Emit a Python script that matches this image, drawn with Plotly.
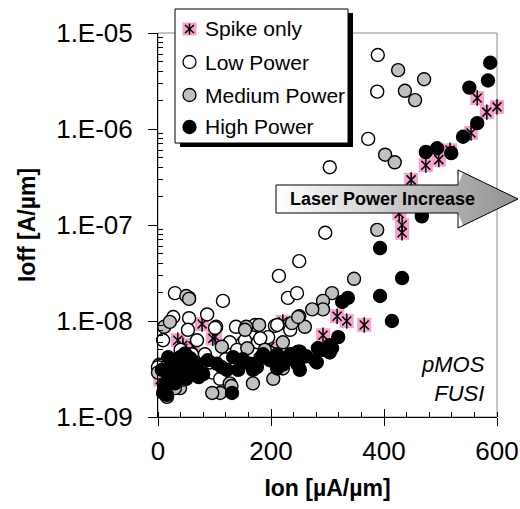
import plotly.graph_objects as go

# ---------------- data ----------------
spike_x = [565, 582, 600, 554, 517, 497, 474, 448, 427, 432, 432, 317, 334, 365, 292,
           221, 198, 78, 101, 62, 44, 35, 4, 97, 44]
spike_y = [2.1e-6, 1.5e-6, 1.7e-6, 9.1e-7, 6.0e-7, 4.8e-7, 4.2e-7, 2.95e-7, 1.32e-7, 1.0e-7,
           8.3e-8, 1.12e-8, 1.0e-8, 9.1e-9, 7.1e-9, 9.8e-9, 5.4e-9, 9.3e-9, 6.8e-9, 5.5e-9,
           5.6e-9, 6.3e-9, 2.45e-9, 6.6e-9, 5.2e-9]

low_x = [389, 388, 372, 304, 296, 250, 214, 230, 246, 115, 30, 55, 87, 55, 27, 53, 103, 138,
         195, 207, 166, 9, 2, 83, 97, 92, 150, 177, 127, 21, 69, 211, 181, 172, 234, 154, 0,
         101, 40, 60, 120, 140, 190, 110, 75]
low_y = [5.9e-6, 2.45e-6, 7.9e-7, 4.0e-7, 8.3e-8, 4.2e-8, 2.95e-8, 1.74e-8, 1.95e-8, 1.62e-8,
         1.95e-8, 1.74e-8, 1.17e-8, 1.07e-8, 1.10e-8, 8.1e-9, 8.7e-9, 8.7e-9, 6.8e-9, 8.9e-9,
         6.8e-9, 6.3e-9, 3.5e-9, 4.5e-9, 2.9e-9, 3.7e-9, 5.9e-9, 6.0e-9, 6.0e-9, 3.1e-9,
         6.3e-9, 9.1e-9, 6.6e-9, 9.1e-9, 8.1e-9, 6.3e-9, 3.3e-9, 8.5e-9, 5.0e-9, 4.5e-9,
         4.0e-9, 5.0e-9, 5.0e-9, 2.5e-9, 3.5e-9]

med_x = [425, 471, 437, 455, 402, 419, 388, 347, 308, 292, 292, 273, 250, 260, 237, 179, 221,
         198, 204, 168, 11, 21, 50, 55, 113, 158, 156, 127, 110, 96, 248, 7, 39, 16, 221, 189,
         154, 0, 44, 30, 18, 130]
med_y = [4.1e-6, 3.3e-6, 2.5e-6, 2.0e-6, 5.4e-7, 4.5e-7, 8.9e-8, 2.75e-8, 1.95e-8, 1.62e-8,
         1.32e-8, 1.32e-8, 1.12e-8, 8.7e-9, 9.5e-9, 9.1e-9, 6.0e-9, 4.7e-9, 2.5e-9, 2.24e-9,
         8.7e-9, 9.8e-9, 1.82e-8, 1.7e-8, 5.4e-9, 5.2e-9, 8.7e-9, 2.24e-9, 1.78e-9, 1.78e-9,
         1.1e-8, 2.9e-9, 2.0e-9, 1.62e-9, 3.2e-9, 5.0e-9, 8.1e-9, 2.9e-9, 2.45e-9, 2.0e-9,
         3.6e-9, 2.1e-9]

high_x = [588, 584, 551, 565, 540, 494, 474, 519, 467, 393, 432, 393, 336, 326, 414, 319, 304,
          283, 304, 281, 248, 248, 237, 251, 234, 246, 221, 278, 186, 198, 175, 211, 251, 131,
          16, 9, 30, 42, 18, 39, 57, 44, 62, 104, 133, 142, 163, 181, 168, 122, 211, 292, 308,
          7, 25, 30, 50, 70, 80, 20, 12, 35, 60, 88, 48, 72, 113, 150, 230, 262]
high_y = [4.9e-6, 3.2e-6, 2.7e-6, 1.15e-6, 8.3e-7, 6.3e-7, 5.75e-7, 5.6e-7, 1.23e-7, 5.75e-8,
          2.8e-8, 1.82e-8, 1.74e-8, 1.58e-8, 1.0e-8, 6.8e-9, 5.6e-9, 5.2e-9, 4.7e-9, 3.7e-9,
          4.8e-9, 3.5e-9, 4.5e-9, 4.8e-9, 4.5e-9, 3.6e-9, 3.5e-9, 3.9e-9, 4.5e-9, 3.9e-9,
          3.3e-9, 3.2e-9, 3.1e-9, 1.78e-9, 1.7e-9, 1.78e-9, 2.24e-9, 2.9e-9, 4.2e-9, 4.2e-9,
          4.1e-9, 3.3e-9, 3.1e-9, 3.6e-9, 4.2e-9, 3.1e-9, 3.6e-9, 4.1e-9, 3.1e-9, 3.1e-9,
          4.5e-9, 5.0e-9, 5.2e-9, 3.1e-9, 3.5e-9, 2.8e-9, 2.5e-9, 3.5e-9, 2.8e-9, 2.5e-9,
          2.1e-9, 3.9e-9, 3.0e-9, 3.9e-9, 4.6e-9, 2.6e-9, 3.3e-9, 4.0e-9, 4.0e-9, 4.3e-9]

series_names = ["Spike only", "Low Power", "Medium Power", "High Power"]
x_tickvals = [0, 200, 400, 600]
x_ticktext = ["0", "200", "400", "600"]
y_tickvals = [1e-9, 1e-8, 1e-7, 1e-6, 1e-5]
y_ticktext = ["1.E-09", "1.E-08", "1.E-07", "1.E-06", "1.E-05"]
arrow_text = "Laser Power Increase"
corner_text = ["pMOS", "FUSI"]

# ---------------- styling ----------------
FONT = "Liberation Sans, Arial, sans-serif"
PINK = "#f6a2cd"
GRAY = "#c0c0c0"
W, H = 520, 509
L, R, T, B = 158, 497, 33, 417   # plot area in screenshot pixels


def px(x):
    return (x - L) / (R - L)


def py(y):
    return (B - y) / (B - T)


fig = go.Figure()

fig.add_trace(go.Scatter(x=spike_x, y=spike_y, mode="markers", name=series_names[0],
                         marker=dict(symbol="square", size=14, color=PINK, line=dict(width=0)),
                         cliponaxis=False, showlegend=False))
fig.add_trace(go.Scatter(x=spike_x, y=spike_y, mode="markers", name=series_names[0],
                         marker=dict(symbol="x-thin-open", size=9, color="black",
                                     line=dict(width=1.5, color="black")),
                         cliponaxis=False, showlegend=False, hoverinfo="skip"))
fig.add_trace(go.Scatter(x=spike_x, y=spike_y, mode="markers", name=series_names[0],
                         marker=dict(symbol="line-ns-open", size=11, color="black",
                                     line=dict(width=1.5, color="black")),
                         cliponaxis=False, showlegend=False, hoverinfo="skip"))
for xs, ys, col, nm in [(low_x, low_y, "white", series_names[1]),
                        (med_x, med_y, GRAY, series_names[2]),
                        (high_x, high_y, "black", series_names[3])]:
    fig.add_trace(go.Scatter(x=xs, y=ys, mode="markers", name=nm,
                             marker=dict(symbol="circle", size=13, color=col,
                                         line=dict(width=1.4, color="black")),
                             cliponaxis=False, showlegend=False))

# dummy trace for the overlay axis carrying the inner half of the major x ticks
fig.add_trace(go.Scatter(x=[None], y=[None], xaxis="x2", yaxis="y", showlegend=False,
                         hoverinfo="skip"))

shapes = []
shapes.append(dict(type="rect", xref="paper", yref="paper", x0=0, y0=0, x1=1, y1=1,
                   line=dict(color="#8c8c8c", width=1), layer="below"))

# ---- legend (custom, with drop shadow) ----
lx0, ly0, lx1, ly1 = 175, 9, 348, 143
shapes.append(dict(type="rect", xref="paper", yref="paper",
                   x0=px(lx0 + 5), x1=px(lx1 + 5), y0=py(ly1 + 4), y1=py(ly0 + 4),
                   fillcolor="black", line=dict(width=0), layer="above"))
shapes.append(dict(type="rect", xref="paper", yref="paper",
                   x0=px(lx0), x1=px(lx1), y0=py(ly1), y1=py(ly0),
                   fillcolor="white", line=dict(color="black", width=1), layer="above"))
item_y = [29, 62, 95, 127]
mx = 189.5
shapes.append(dict(type="rect", xref="paper", yref="paper", x0=px(182.5), x1=px(196.5),
                   y0=py(item_y[0] + 6.5), y1=py(item_y[0] - 6.5), fillcolor=PINK,
                   line=dict(width=0), layer="above"))
for (ax, ay, bx, by) in [(mx, item_y[0] - 5.5, mx, item_y[0] + 5.5),
                         (mx - 4.5, item_y[0] - 4, mx + 4.5, item_y[0] + 4),
                         (mx - 4.5, item_y[0] + 4, mx + 4.5, item_y[0] - 4)]:
    shapes.append(dict(type="line", xref="paper", yref="paper", x0=px(ax), y0=py(ay),
                       x1=px(bx), y1=py(by), line=dict(color="black", width=1.5), layer="above"))
for yy, col in zip(item_y[1:], ["white", GRAY, "black"]):
    shapes.append(dict(type="circle", xref="paper", yref="paper", x0=px(mx - 6.5),
                       x1=px(mx + 6.5), y0=py(yy + 6.5), y1=py(yy - 6.5), fillcolor=col,
                       line=dict(color="black", width=1.3), layer="above"))

# ---- gradient arrow ----
bx0, bx1, btop, bbot = 276, 458, 185, 213
htop, hbot, tipx, tipy = 170, 228, 518, 199


def top_at(x):
    if x <= bx1:
        return btop
    return htop + (x - bx1) / (tipx - bx1) * (tipy - htop)


def bot_at(x):
    if x <= bx1:
        return bbot
    return hbot - (x - bx1) / (tipx - bx1) * (hbot - tipy)


def shade(x):
    f = (x - bx0) / (tipx - bx0)
    v = int(round(255 - 110 * f))
    return "rgb(%d,%d,%d)" % (v, v, v)


edges = [bx0 + (bx1 - bx0) * i / 30 for i in range(31)] + \
        [bx1 + (tipx - bx1) * i / 12 for i in range(1, 13)]
for a, b in zip(edges[:-1], edges[1:]):
    b2 = min(b + 0.6, tipx) if b <= bx1 else b
    if a >= bx1:
        pts = [(a, top_at(a)), (b, top_at(b)), (b, bot_at(b)), (a, bot_at(a))]
    else:
        pts = [(a, btop), (b2, btop), (b2, bbot), (a, bbot)]
    path = "M " + " L ".join("%.5f,%.5f" % (px(x), py(y)) for x, y in pts) + " Z"
    shapes.append(dict(type="path", xref="paper", yref="paper", path=path,
                       fillcolor=shade((a + b) / 2), line=dict(width=0), layer="above"))
outline = [(bx0, btop), (bx1, btop), (bx1, htop), (tipx, tipy), (bx1, hbot), (bx1, bbot),
           (bx0, bbot)]
shapes.append(dict(type="path", xref="paper", yref="paper",
                   path="M " + " L ".join("%.5f,%.5f" % (px(x), py(y)) for x, y in outline) + " Z",
                   line=dict(color="black", width=1), layer="above"))

annotations = []
for yy, txt in zip(item_y, series_names):
    annotations.append(dict(xref="paper", yref="paper", x=px(203), y=py(yy), text=txt,
                            showarrow=False, xanchor="left", yanchor="middle",
                            font=dict(family=FONT, size=21, color="black")))
annotations.append(dict(xref="paper", yref="paper", x=px(382), y=py(199),
                        text="<b>%s</b>" % arrow_text, showarrow=False,
                        xanchor="center", yanchor="middle",
                        font=dict(family=FONT, size=18, color="black")))
annotations.append(dict(xref="paper", yref="paper", x=px(487), y=py(379),
                        text="<i>%s</i><br><i>%s</i>" % tuple(corner_text), showarrow=False,
                        xanchor="right", yanchor="middle", align="right",
                        font=dict(family=FONT, size=22, color="black")))

minor_y = [k * 10.0 ** e for e in range(-9, -5) for k in range(2, 10)]

fig.update_layout(
    width=W, height=H,
    margin=dict(l=L, r=W - R, t=T, b=H - B, autoexpand=False),
    paper_bgcolor="white", plot_bgcolor="white",
    font=dict(family=FONT, color="black"),
    showlegend=False,
    xaxis=dict(range=[0, 600], tickmode="array", tickvals=x_tickvals, ticktext=x_ticktext,
               ticks="outside", ticklen=8, tickwidth=1, tickcolor="black",
               showline=True, linecolor="black", linewidth=1, showgrid=False, zeroline=False,
               minor=dict(ticks="inside", ticklen=5, tickwidth=1, tickcolor="black",
                          dtick=40, tick0=0, showgrid=False),
               tickfont=dict(family=FONT, size=26, color="black"), ticklabelstandoff=3,
               title=dict(text="<b>Ion [µA/µm]</b>", font=dict(family=FONT, size=23),
                          standoff=14),
               automargin=False),
    xaxis2=dict(range=[0, 600], overlaying="x", anchor="y", side="bottom", tickmode="array",
                tickvals=x_tickvals, ticks="inside", ticklen=8, tickwidth=1, tickcolor="black",
                showticklabels=False, showline=False, showgrid=False, zeroline=False),
    yaxis=dict(type="log", range=[-9, -5], tickmode="array", tickvals=y_tickvals,
               ticktext=y_ticktext, ticks="outside", ticklen=9, tickwidth=1, tickcolor="black",
               showline=True, linecolor="black", linewidth=1, showgrid=False, zeroline=False,
               minor=dict(ticks="inside", ticklen=5, tickwidth=1, tickcolor="black",
                          tickmode="array", tickvals=minor_y, showgrid=False),
               tickfont=dict(family=FONT, size=26, color="black"), ticklabelstandoff=10,
               title=dict(text="<b>Ioff [A/µm]</b>", font=dict(family=FONT, size=23),
                          standoff=14),
               automargin=False),
    shapes=shapes,
    annotations=annotations,
)

# remove the default 8px page margin so the 520x509 figure fills the window exactly
fig.write_html("out.html", config={"displayModeBar": False},
               post_script="document.body.style.margin='0';")
